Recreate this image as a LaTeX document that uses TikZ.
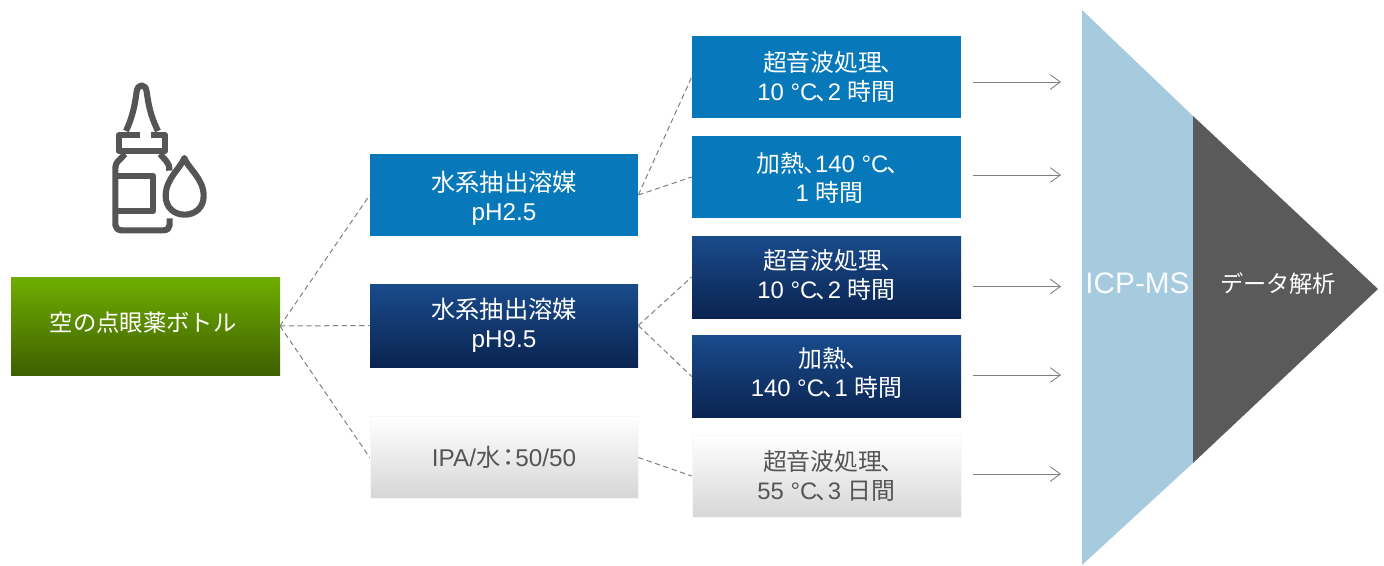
\documentclass[tikz,border=0pt]{standalone}
\usepackage{fontspec}
\setmainfont{Liberation Sans}
\newfontfamily\cjk{Noto Sans CJK JP}
\usetikzlibrary{arrows.meta,shadows}
\definecolor{grn1}{HTML}{6FAE00}
\definecolor{grn2}{HTML}{659F00}
\definecolor{grn3}{HTML}{3E5F00}
\definecolor{blu}{HTML}{0779BB}
\definecolor{nav1}{HTML}{1A4B8C}
\definecolor{nav2}{HTML}{0A2450}
\definecolor{txtgray}{HTML}{555555}
\definecolor{lblue}{HTML}{A6CBDF}
\definecolor{dgray}{HTML}{5A5A5A}
\newcommand{\ten}{\kern-.06em{\cjk 、}\kern-.5em}
\newcommand{\tenend}{\kern-.06em{\cjk 、}\kern-.62em}
\tikzset{
  boxbase/.style={minimum height=#1*.75pt,inner sep=0pt,align=center,text=white,
    font=\fontsize{18.2}{21.75}\selectfont},
  boxbase/.default=82,
  awide/.style={minimum width=268*.75pt},
  bwide/.style={minimum width=269*.75pt,font=\fontsize{17.9}{21.75}\selectfont},
  flatblue/.style={boxbase,fill=blu},
  navy/.style={boxbase,top color=nav1,bottom color=nav2},
  pale/.style={boxbase,text=txtgray,draw=black!3,line width=.5pt,top color=white,middle color=white!97!black,bottom color=white!84!black},
  dashline/.style={draw=gray,line width=.75pt,dash pattern=on 4pt off 2.6pt},
  flowarrow/.style={draw=gray,line width=.65pt,-{Straight Barb[length=7.5pt,width=11pt,line width=.65pt]}},
  icon/.style={draw=txtgray,line width=4.6pt,line join=round,fill=none}
}
\begin{document}
\begin{tikzpicture}[x=.75pt,y=-.75pt]
\useasboundingbox (0,0) rectangle (1384,565);
% start
\node[boxbase=98,minimum width=269*.75pt,top color=grn1,middle color=grn2,bottom color=grn3] (s) at (145.5,326) {};
\node[text=white,font=\fontsize{17.5}{21.75}\selectfont\cjk,inner sep=0pt] (stxt) at (143,323) {空の点眼薬ボトル};
% solvents
\node[flatblue,awide] (a1) at (504,195) {\rule{0pt}{20pt}{\cjk 水系抽出溶媒}\\pH2.5};
\node[navy,boxbase=83,awide] (a2) at (504,325.5) {{\cjk 水系抽出溶媒}\\pH9.5};
\node[pale,awide] (a3) at (504,457.5) {IPA/{\cjk 水}\kern.08em{\cjk\kern-.25em：\kern-.25em}\kern.04em 50/50};
% treatments
\node[flatblue,bwide] (b1) at (826.5,77) {{\cjk 超音波処理}\tenend\\10 °C\ten 2 {\cjk 時間}};
\node[flatblue,bwide] (b2) at (826.5,177) {\rule{0pt}{16.7pt}{\cjk 加熱}\ten 140 °C\tenend\\1 {\cjk 時間}\kern-.25em};
\node[navy,bwide] (b3) at (826.5,277) {{\cjk 超音波処理}\tenend\\10 °C\ten 2 {\cjk 時間}\rule[-4.5pt]{0pt}{1pt}};
\node[navy,boxbase=82.5,bwide] (b4) at (826.5,376.5) {{\cjk 加熱}\tenend\\140 °C\ten 1 {\cjk 時間}\rule[-7.5pt]{0pt}{1pt}};
\node[pale,bwide] (b5) at (826.5,476) {{\cjk 超音波処理}\tenend\\55 °C\ten 3 {\cjk 日間}};
% dashed links
\coordinate (sr) at (280,326);
\foreach \t in {a1,a2,a3} \draw[dashline] (sr) -- (\t.west);
\draw[dashline] (a1.east) -- (b1.west);
\draw[dashline] (a1.east) -- (b2.west);
\draw[dashline] (a2.east) -- (b3.west);
\draw[dashline] (a2.east) -- (b4.west);
\draw[dashline] (a3.east) -- (b5.west);
% funnel
\fill[lblue] (1082,10) -- (1193,116) -- (1193,463) -- (1082,565) -- cycle;
\fill[dgray] (1193,116) -- (1378,289) -- (1193,463) -- cycle;
\node[text=white!93!lblue,font=\fontsize{22.3}{26}\selectfont,inner sep=0pt] (icp) at (1137.5,283) {ICP-MS};
\node[text=white,font=\fontsize{17.4}{20}\selectfont\cjk,inner sep=0pt] (da) at (1278,284) {データ解析};
% arrows
\foreach \n/\yy in {1/82,2/175,3/286.5,4/375,5/474}{
  \coordinate (f\n) at (973,\yy);
  \coordinate (g\n) at (1061,\yy);
  \draw[flowarrow] (f\n) -- (g\n);
}
% bottle icon
\begin{scope}[shift={(90,70)},x=.25pt,y=-.25pt]
\draw[icon] (108,183) .. controls (130,135) and (135,100) .. (140,65)
  .. controls (143,40) and (167,40) .. (170,65)
  .. controls (175,100) and (180,135) .. (204,183);
\draw[icon] (150,196) -- (86,196) -- (86,243) -- (226,243) -- (226,196) -- (182,196);
\draw[icon] (105,252) -- (90,268) .. controls (78,278) and (76,285) .. (76,300)
  -- (76,465) .. controls (76,474) and (84,481) .. (96,481)
  -- (220,481) .. controls (232,481) and (239,474) .. (239,465) -- (239,445);
\draw[icon] (210,252) -- (228,272) .. controls (236,280) and (238,288) .. (238,302);
\draw[icon] (76,317) -- (189,317) -- (189,424) -- (76,424);
\draw[icon] (283,264) .. controls (272,295) and (227,325) .. (227,378)
  .. controls (227,412) and (252,434) .. (284,434)
  .. controls (316,434) and (341,412) .. (341,378)
  .. controls (341,325) and (294,295) .. (283,264) -- cycle;
\end{scope}
\end{tikzpicture}
\end{document}
